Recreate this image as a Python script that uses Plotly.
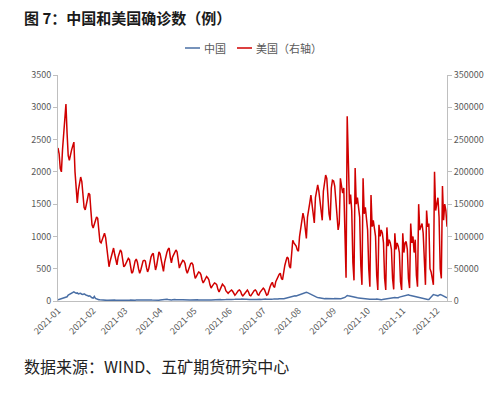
import plotly.graph_objects as go
import pandas as pd

# US daily confirmed cases (thousands), by month of 2021
us_jan = [237,228,205,200,235,260,280,305,260,225,218,228,234,240,246,200,170,152,172,185,192,185,160,145,141,148,158,167,165,140,118]
us_feb = [113,118,125,130,128,105,92,90,95,100,105,98,80,62,53,62,70,78,82,72,60,56,68,75,79,76,62,53]
us_mar = [55,58,63,66,64,52,43,45,55,62,65,60,50,43,48,57,62,63,62,52,45,50,60,68,72,74,60,48,55,66,76]
us_apr = [73,64,52,46,60,70,75,80,82,68,59,68,72,77,79,76,60,51,56,60,63,62,58,48,43,48,54,58,59,56]
us_may = [44,35,38,42,45,44,41,33,28,31,35,38,36,33,25,20,23,26,28,27,25,18,14,18,22,26,24,22,16,14,12]
us_jun = [14,16,17,15,11,9,11,14,16,17,15,10,8,10,13,15,17,14,9,8,11,14,16,17,15,10,9,13,16,19]
us_jul = [20,18,12,9,10,18,22,26,29,23,21,30,34,38,41,43,35,33,48,55,62,68,66,54,51,80,94,90,88,85,79]
us_aug = [77,100,112,121,136,128,105,97,130,145,152,164,150,128,121,160,175,180,170,156,135,125,170,185,195,190,160,135,125,175,187]
us_sep = [186,178,156,125,110,120,190,178,167,175,95,36,286,185,150,165,140,60,32,206,150,160,140,130,55,25,190,135,145,120]
us_oct = [110,50,22,164,115,125,110,100,40,17,118,100,110,105,90,35,17,114,85,95,90,80,35,18,105,80,90,85,75,30,17]
us_nov = [105,75,90,92,80,35,20,120,90,100,75,95,40,22,150,110,115,120,105,45,25,140,115,120,50,45,30,25,200,140]
us_dec = [150,160,130,50,35,178,125,150,140,115]

# China daily confirmed cases, by month of 2021
cn_jan = [20,25,35,30,45,40,55,60,65,90,100,110,115,130,140,130,120,125,110,115,120,105,100,110,95,90,85,75,80,60,50]
cn_feb = [45,70,40,30,25,20,18,15,14,12,14,12,10,11,13,12,10,12,14,15,12,10,11,13,12,14,11,12]
cn_mar = [10,12,14,11,13,15,12,10,11,12,14,13,11,10,12,15,13,11,12,14,16,12,13,15,14,12,11,14,15,13,12]
cn_apr = [14,16,18,20,25,30,28,22,18,15,14,20,25,22,18,16,15,14,16,18,20,17,15,16,18,15,14,16,18,17]
cn_may = [15,14,16,18,15,14,17,16,15,18,20,17,16,15,14,16,18,20,19,17,16,18,20,22,19,17,16,20,22,24,21]
cn_jun = [20,22,25,23,20,26,28,25,22,24,27,30,25,22,26,28,30,27,25,24,26,30,28,25,24,27,29,26,24,27]
cn_jul = [25,28,30,27,24,22,26,28,25,30,32,28,25,30,35,33,30,28,35,40,45,42,50,55,60,65,70,75,80,78,85]
cn_aug = [90,95,100,110,120,125,140,135,130,120,110,100,90,85,80,70,60,55,50,45,40,42,38,35,40,38,36,34,38,40,36]
cn_sep = [35,38,36,34,32,30,35,38,40,45,55,70,85,80,75,70,65,60,55,50,45,50,48,45,40,38,42,40,36,35]
cn_oct = [32,30,28,26,24,22,25,28,30,26,24,22,20,22,25,28,30,35,40,42,45,50,48,52,55,50,48,52,60,65,70]
cn_nov = [75,85,90,95,100,95,90,85,80,75,70,72,68,60,55,50,45,40,35,30,28,25,22,24,40,60,80,100,95,90]
cn_dec = [85,80,90,100,95,85,80,70,60,50]

series_names = ["中国", "美国（右轴）"]

us_months = [us_jan, us_feb, us_mar, us_apr, us_may, us_jun, us_jul, us_aug, us_sep, us_oct, us_nov, us_dec]
cn_months = [cn_jan, cn_feb, cn_mar, cn_apr, cn_may, cn_jun, cn_jul, cn_aug, cn_sep, cn_oct, cn_nov, cn_dec]

def build(months):
    xs, ys = [], []
    for m, vals in enumerate(months, start=1):
        for i, v in enumerate(vals):
            xs.append(pd.Timestamp(2021, m, i + 1))
            ys.append(v)
    return xs, ys

us_x, us_y = build(us_months)
us_y = [v * 1000 for v in us_y]
cn_x, cn_y = build(cn_months)

tick_dates = [pd.Timestamp(2021, m, 1) for m in range(1, 13)]
tick_text = [d.strftime("%Y-%m") for d in tick_dates]

font_cn = "Noto Sans CJK SC, Noto Sans, sans-serif"
grey = "#595959"
blue = "#4A6FA5"
red = "#D00000"

# page offset of 8px (body margin); plot area in page pixels: x 58..447, y 75..301
PW, PH = 389.0, 226.0
def px(x):
    return (x - 58) / PW
def py(y):
    return (301 - y) / PH

fig = go.Figure()
fig.add_trace(go.Scatter(x=cn_x, y=cn_y, name=series_names[0], mode="lines",
                         line=dict(color=blue, width=1.5), showlegend=False))
fig.add_trace(go.Scatter(x=us_x, y=us_y, name=series_names[1], mode="lines",
                         line=dict(color=red, width=1.5), yaxis="y2", showlegend=False))

legend_y = py(48)
shapes = [
    dict(type="line", xref="paper", yref="paper", x0=px(185), x1=px(200), y0=legend_y, y1=legend_y,
         line=dict(color=blue, width=1.5)),
    dict(type="line", xref="paper", yref="paper", x0=px(237), x1=px(252), y0=legend_y, y1=legend_y,
         line=dict(color=red, width=1.5)),
]

fig.update_layout(
    width=492, height=385,
    margin=dict(l=50, r=53, t=67, b=92, autoexpand=False),
    paper_bgcolor="white", plot_bgcolor="white",
    font=dict(family=font_cn, color=grey, size=9),
    showlegend=False,
    shapes=shapes,
    xaxis=dict(type="date", range=[us_x[0], us_x[-1]], tickvals=tick_dates, ticktext=tick_text,
               tickangle=-45, showgrid=False, showline=True, linecolor="#BFBFBF", linewidth=1,
               ticks="", tickfont=dict(size=9, color=grey), zeroline=False, automargin=False),
    yaxis=dict(range=[0, 3500], dtick=500, showgrid=False, showline=True, linecolor="#BFBFBF",
               ticks="outside", ticklen=4, tickcolor="#BFBFBF", tickfont=dict(size=9, color=grey),
               zeroline=False, automargin=False),
    yaxis2=dict(range=[0, 350000], dtick=50000, overlaying="y", side="right", showgrid=False,
                showline=True, linecolor="#BFBFBF", ticks="outside", ticklen=4, tickcolor="#BFBFBF",
                tickfont=dict(size=9, color=grey), tickformat="d", zeroline=False, automargin=False),
    annotations=[
        dict(text="<b>图 7：中国和美国确诊数（例）</b>", xref="paper", yref="paper",
             x=px(22), y=py(17), xanchor="left", yanchor="middle", showarrow=False,
             font=dict(size=15, color="#1a1a1a", family=font_cn)),
        dict(text=series_names[0], xref="paper", yref="paper",
             x=px(202), y=legend_y, xanchor="left", yanchor="middle", showarrow=False,
             font=dict(size=11, color=grey, family=font_cn)),
        dict(text=series_names[1], xref="paper", yref="paper",
             x=px(254), y=legend_y, xanchor="left", yanchor="middle", showarrow=False,
             font=dict(size=11, color=grey, family=font_cn)),
        dict(text="数据来源：WIND、五矿期货研究中心", xref="paper", yref="paper",
             x=px(22), y=py(366), xanchor="left", yanchor="middle", showarrow=False,
             font=dict(size=16, color="#222222", family=font_cn)),
    ],
)

fig.write_html("out.html")
